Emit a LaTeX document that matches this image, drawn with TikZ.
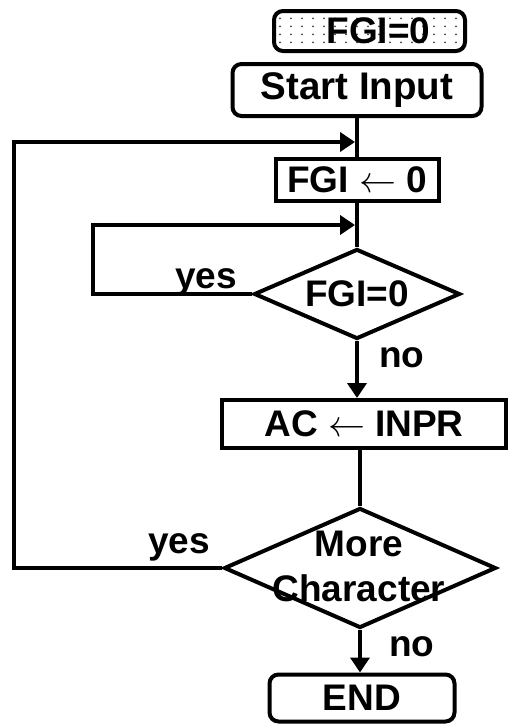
\RequirePackage{fix-cm}
\documentclass[tikz,border=0pt]{standalone}
\usepackage{fontspec}
\setmainfont{Liberation Sans}
\usetikzlibrary{shapes.geometric,positioning,arrows.meta,patterns.meta}

\tikzdeclarepattern{
  name=flagdots,
  type=uncolored,
  bounding box={(0pt,0pt) and (11pt,8pt)},
  tile size={(11pt,8pt)},
  code={\fill (5.5pt,4pt) circle (1.1pt);}
}

\tikzset{
  txt/.style={font=\bfseries\fontsize{37}{45}\selectfont},
  box/.style={txt, draw, line width=4pt, inner sep=0pt},
  roundbox/.style={box, rounded corners=9pt},
  decision/.style={txt, diamond, draw, line width=4pt, inner sep=0pt, aspect=2.2},
  lbl/.style={txt, inner sep=0pt},
  flow/.style={line width=4pt},
  flowarrow/.style={flow, -{Triangle[length=15pt,width=19pt]}}
}

\begin{document}
\begin{tikzpicture}[x=1pt,y=-1pt]
    \useasboundingbox (0,0) rectangle (510,726);
    % nodes
    \node[roundbox, pattern=flagdots, pattern color=black!75, minimum width=191pt, minimum height=40pt] (flag) at (369.5,31) {\hspace*{18pt}FGI=0};
    \node[roundbox, font=\bfseries\fontsize{38.5}{45}\selectfont, minimum width=249pt, minimum height=52pt] (start) at (357,90) {Start Input};
    \node[box, minimum width=163pt, minimum height=42pt] (fgiset) at (357,180) {FGI \(\leftarrow\) 0};
    \node[decision, minimum width=206pt, minimum height=90pt] (fgitest) at (357,294) {FGI=0};
    \node[box, minimum width=284pt, minimum height=48pt] (acset) at (364,424) {AC \(\leftarrow\) INPR};
    \node[decision, minimum width=272pt, minimum height=120pt] (more) at (360,568) {};
    \node[lbl, align=center] (moretext) at (359,566) {More\\Character};
    \node[roundbox, minimum width=185pt, minimum height=47pt] (finish) at (362,698) {END};
    % corners and joins
    \coordinate (join1) at (355,142);
    \coordinate (join2) at (355,225);
    \coordinate (outer) at (14,142);
    \coordinate (inner) at (93,225);
    % main flow
    \draw[flow] (start.south) -- (fgiset.north);
    \draw[flow] (fgiset.south) -- (fgitest.north);
    \draw[flowarrow] (fgitest.south) -- node[lbl, right=20pt, pos=0.3] (no1) {no} (fgitest.south |- acset.north);
    \draw[flow] (acset.south -| more.north) -- (more.north);
    \draw[flowarrow] (more.south) -- node[lbl, right=27pt, pos=0.4] (no2) {no} (more.south |- finish.north);
    % loops back
    \draw[flowarrow] (fgitest.west) -| (inner) -- (join2);
    \node[lbl, above left=-2pt and 15pt of fgitest.west] (yes1) {yes};
    \draw[flowarrow] (more.west) -| (outer) -- (join1);
    \node[lbl, above left=7pt and 12pt of more.west] (yes2) {yes};
\end{tikzpicture}
\end{document}
